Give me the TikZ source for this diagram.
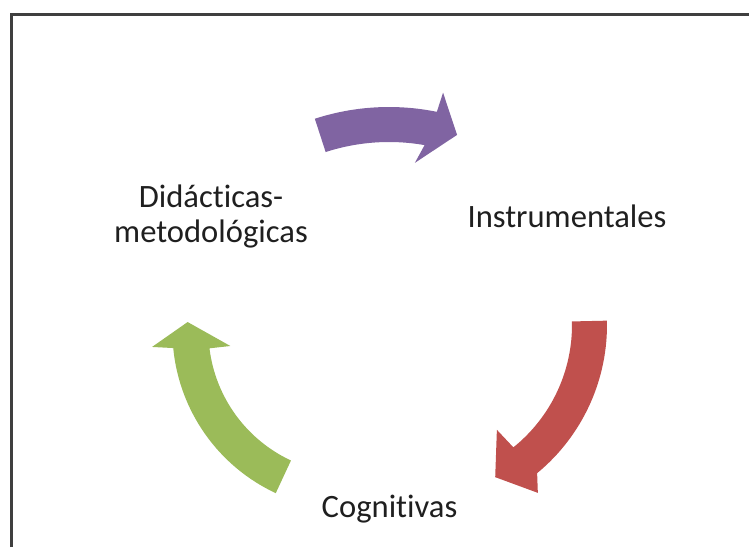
\documentclass[tikz,border=0pt]{standalone}
\usepackage{fontspec}
\setmainfont{Carlito}[Ligatures={NoCommon}]
\usetikzlibrary{calc}
\definecolor{arrowpurple}{HTML}{8064A2}
\definecolor{arrowred}{HTML}{C0504D}
\definecolor{arrowgreen}{HTML}{9BBB59}
\definecolor{framegray}{HTML}{3F3F3F}
\definecolor{labeltext}{HTML}{1F1F1F}
\begin{document}
\begin{tikzpicture}[x=0.5pt,y=-0.5pt,
  cyclelabel/.style={font=\fontsize{16.3}{17.5}\selectfont, text=labeltext, inner sep=0pt, align=center}]
\useasboundingbox (0,0) rectangle (749,547);
\fill[white] (0,0) rectangle (749,547);
\draw[framegray, line width=1.5pt] (11,547) -- (11,14) -- (749,14);

% purple arrow (Didacticas -> Instrumentales)
\coordinate (P) at (389,347);
\fill[arrowpurple] ($(P)+(-108:240)$) arc[start angle=-108, end angle=-78.5, radius=240]
  -- ($(P)+(-78:260)$) -- ($(P)+(-72.2:222.8)$) -- ($(P)+(-82:186)$)
  -- ($(P)+(-80:205)$) arc[start angle=-80, end angle=-108, radius=205] -- cycle;

% red arrow (Instrumentales -> Cognitivas)
\coordinate (R) at (415,325);
\fill[arrowred] ($(R)+(-1.3:192)$) arc[start angle=-1.3, end angle=50.5, radius=192]
  -- ($(R)+(53.8:208)$) -- ($(R)+(62.2:172)$) -- ($(R)+(52:133)$)
  -- ($(R)+(51.2:157)$) arc[start angle=51.2, end angle=-1.3, radius=157] -- cycle;

% green arrow (Cognitivas -> Didacticas)
\coordinate (G) at (351.4,330.9);
\fill[arrowgreen] ($(G)+(115:179)$) arc[start angle=115, end angle=174.5, radius=179]
  -- ($(G)+(175.4:200)$) -- ($(G)+(183.1:164)$) -- ($(G)+(172.9:122)$)
  -- ($(G)+(173:143)$) arc[start angle=173, end angle=115, radius=143] -- cycle;

\node[cyclelabel, anchor=base] (did) at (211,242) {Didácticas-\\metodológicas};
\node[cyclelabel, anchor=base] (ins) at (567,227) {Instrumentales};
\node[cyclelabel, anchor=base] (cog) at (389.5,517) {Cognitivas};
\end{tikzpicture}
\end{document}
